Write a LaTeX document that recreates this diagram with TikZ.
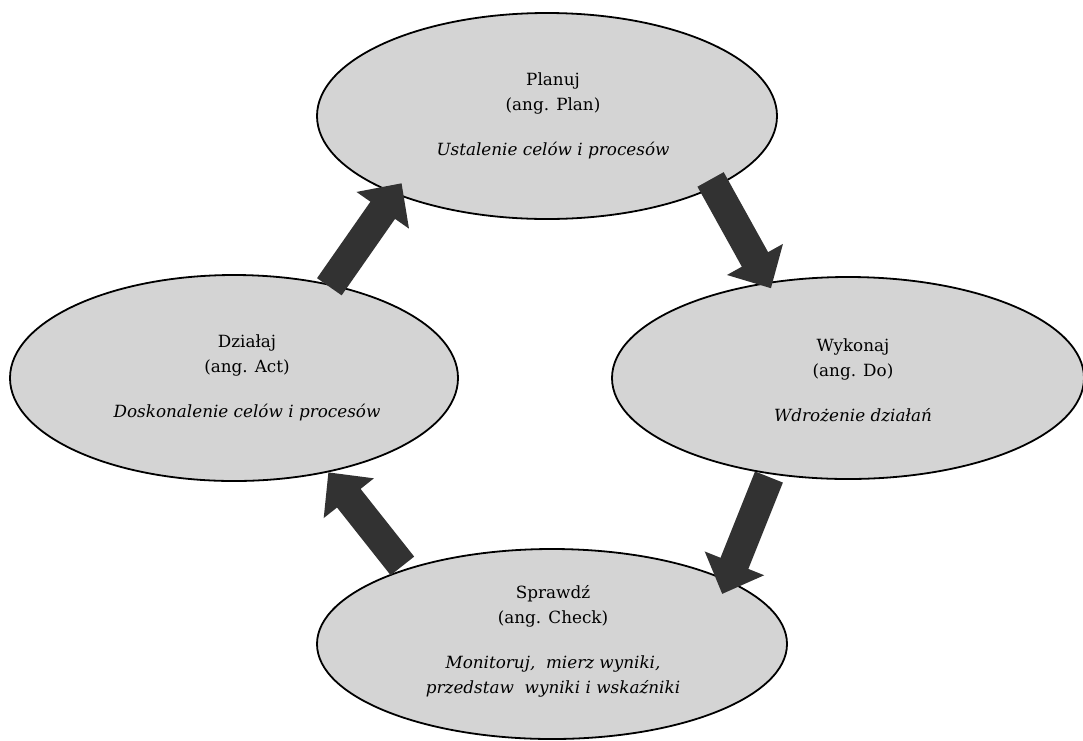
\documentclass[tikz,border=0pt]{standalone}
\usepackage{fontspec}
\setmainfont{DejaVu Serif}
\usetikzlibrary{shapes.geometric,arrows.meta}
\definecolor{ellfill}{RGB}{212,212,212}
\definecolor{arrfill}{RGB}{50,50,50}
\begin{document}
\begin{tikzpicture}[x=1pt,y=-1pt,
  phase/.style={ellipse, draw=black, line width=1.8pt, fill=ellfill, inner sep=0pt},
  phasetext/.style={align=center, font=\fontsize{16.8}{25}\selectfont, text=black},
  cyclearrow/.style={draw=arrfill, line width=30pt, -{Triangle[width=62pt,length=33pt]}}
]
\useasboundingbox (0,0) rectangle (1083,740);
\fill[white] (0,0) rectangle (1083,740);
\node[phase, minimum width=460pt, minimum height=206pt] (plan) at (547,116) {};
\node[phase, minimum width=472pt, minimum height=202pt] (do) at (848,378) {};
\node[phase, minimum width=470pt, minimum height=190pt] (check) at (552,644) {};
\node[phase, minimum width=448pt, minimum height=206pt] (act) at (234,378) {};
\node[phasetext] (plant) at (553,116) {Planuj\\(ang. Plan)\\[20pt]\textit{Ustalenie celów i procesów}};
\node[phasetext] (dot) at (853,380) {Wykonaj\\(ang. Do)\\[20pt]\textit{Wdrożenie działań}};
\node[phasetext] (checkt) at (553,641) {Sprawdź\\(ang. Check)\\[20pt]\textit{Monitoruj,\ \ mierz wyniki,}\\\textit{przedstaw\ \ wyniki i wskaźniki}};
\node[phasetext] (actt) at (247,378) {Działaj\\(ang. Act)\\[20pt]\textit{Doskonalenie celów i procesów}};
\draw[cyclearrow, shorten <=-3pt, shorten >=-13pt] (act.44) -- (plan.207);
\draw[cyclearrow, shorten <=-9pt, shorten >=-7pt] (plan.337) -- (do.130);
\draw[cyclearrow, shorten <=3pt, shorten >=-15pt] (do.231) -- (check.20.5);
\draw[cyclearrow, shorten <=4pt] (check.153) -- (act.315);
\end{tikzpicture}
\end{document}
